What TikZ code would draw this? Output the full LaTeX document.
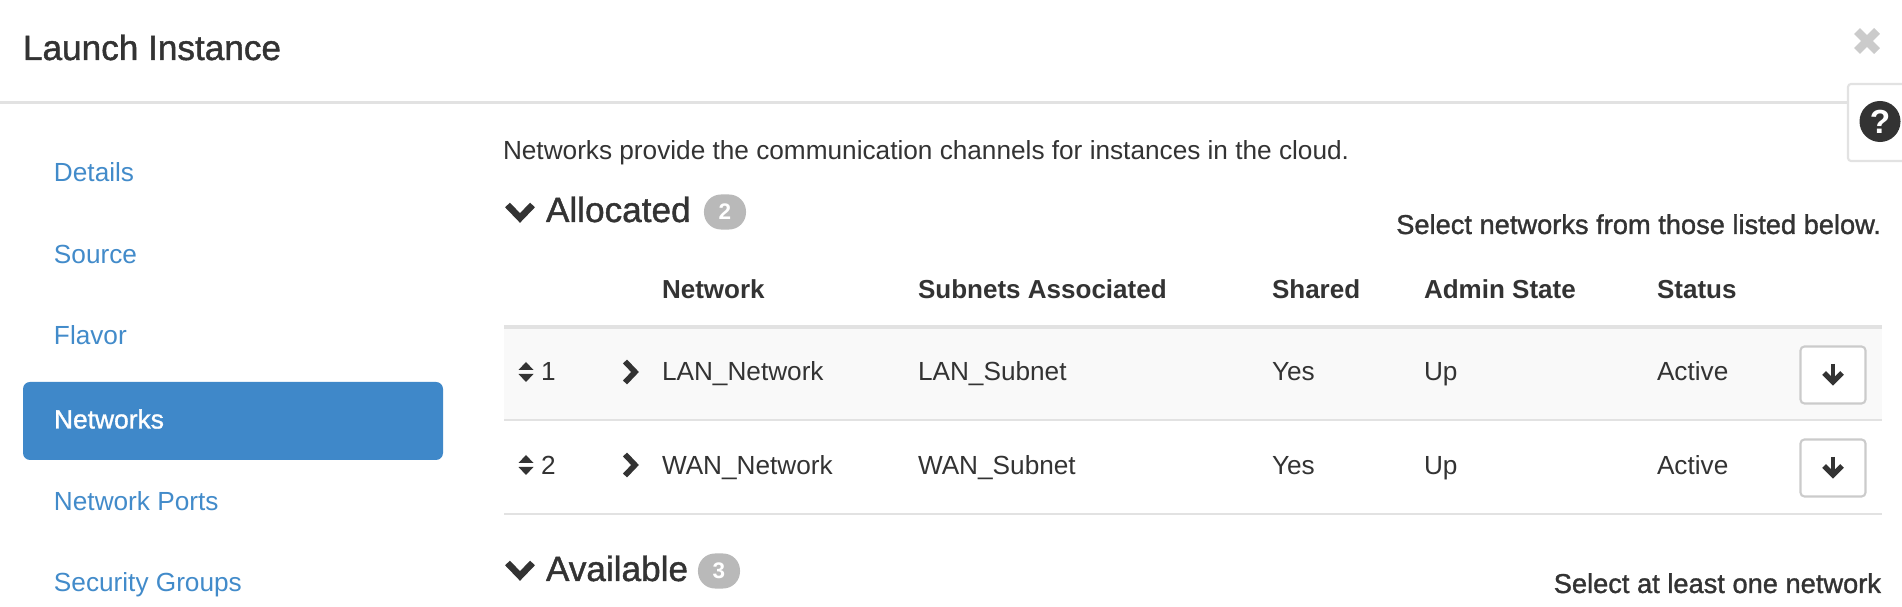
\documentclass[tikz,border=0pt]{standalone}
\usepackage{fontspec}
\setmainfont{Liberation Sans}
\newfontfamily\medfont[FakeBold=1.2]{Liberation Sans}
\usetikzlibrary{positioning}
\definecolor{linkblue}{HTML}{428BCA}
\definecolor{activeblue}{HTML}{3F88C9}
\definecolor{inktext}{HTML}{333333}
\definecolor{rulegray}{HTML}{E2E2E2}
\definecolor{badgegray}{HTML}{B9B9B9}
\definecolor{rowgray}{HTML}{F9F9F9}

\begin{document}
\begin{tikzpicture}[
x=0.01cm, y=-0.01cm,
font=\fontsize{7.45}{9}\selectfont,
every node/.style={text=inktext,inner sep=0pt,outer sep=0pt},
body/.style={anchor=base west},
bodyright/.style={anchor=base east,font=\fontsize{7.75}{9}\selectfont\medfont},
heading/.style={anchor=base west,font=\fontsize{7.4}{9}\selectfont\bfseries},
biglabel/.style={anchor=base west,font=\fontsize{10}{12}\selectfont\medfont},
navlink/.style={anchor=base west,text=linkblue},
badge/.style={fill=badgegray,rounded corners=0.17cm,minimum width=0.42cm,minimum height=0.35cm,text=white,font=\fontsize{6.4}{8}\selectfont\bfseries},
btn/.style={draw=rulegray!90!black,line width=0.6pt,fill=white,rounded corners=0.04cm,minimum width=0.65cm,minimum height=0.57cm},
rule/.style={draw=rulegray,line width=0.6pt},
chev/.style={draw=inktext,line width=1.9pt,line join=miter},
rowchev/.style={draw=inktext,line width=1.6pt,line join=miter}
]
    \useasboundingbox [fill=white] (0,0) rectangle (1902,607);

    % Header
    \node[biglabel] (title) at (23,60) {Launch Instance};
    \draw[rule] (0,102.5) -- (1848,102.5);
    \draw[line width=2.4pt,draw=rulegray!90!black] (1857,31) -- (1877,51) (1877,31) -- (1857,51);
    \draw[rule,rounded corners=0.03cm,fill=white] (1905,84) -- (1848,84) -- (1848,161) -- (1905,161);
    \node[circle,fill=inktext,minimum size=0.41cm,text=white,font=\fontsize{9.5}{10}\selectfont\bfseries] (help) at (1880,121.5) {?};

    % Side menu
    \fill[activeblue,rounded corners=0.07cm] (23,382) rectangle (443,460);
    \node[navlink] (details) at (54,182) {Details};
    \node[navlink] (source) at (54,264) {Source};
    \node[navlink] (flavor) at (54,345) {Flavor};
    \node[navlink,text=white,font=\fontsize{7.5}{9}\selectfont\medfont] (networks) at (54,428.5) {Networks};
    \node[navlink] (ports) at (54,511) {Network Ports};
    \node[navlink] (groups) at (54,592) {Security Groups};

    % Allocated
    \node[body] (intro) at (503,160) {Networks provide the communication channels for instances in the cloud.};
    \draw[chev] (507.5,205) -- (520,218) -- (532.5,205);
    \node[biglabel] (allocated) at (546,222) {Allocated};
    \node[badge] (allocatedcount) at (725,212) {2};
    \node[bodyright] (selecthint) at (1881,234) {Select networks from those listed below.};

    \node[heading] (hnetwork) at (662,299) {Network};
    \node[heading] (hsubnets) at (918,299) {Subnets Associated};
    \node[heading] (hshared) at (1272,299) {Shared};
    \node[heading] (hadmin) at (1424,299) {Admin State};
    \node[heading] (hstatus) at (1657,299) {Status};

    \fill[rowgray] (504,329) rectangle (1882,420);
    \draw[draw=rulegray,line width=1.1pt] (504,327) -- (1882,327);
    \draw[rule] (504,420) -- (1882,420);
    \draw[rule] (504,514) -- (1882,514);

    \foreach \rowy/\basey/\idx/\netname/\subname in {372/381/1/LAN_Network/LAN_Subnet, 465/475/2/WAN_Network/WAN_Subnet} {
        \fill[inktext] (518.5,\rowy-2) -- (526,\rowy-10) -- (533.5,\rowy-2) -- cycle;
        \fill[inktext] (518.5,\rowy+2) -- (526,\rowy+10) -- (533.5,\rowy+2) -- cycle;
        \node[body] (idx\idx) at (541,\basey) {\idx};
        \draw[rowchev] (625,\rowy-10.5) -- (635,\rowy) -- (625,\rowy+10.5);
        \node[body] (net\idx) at (662,\basey) {\detokenize\expandafter{\netname}};
        \node[body] (sub\idx) at (918,\basey) {\detokenize\expandafter{\subname}};
        \node[body] (shared\idx) at (1272,\basey) {Yes};
        \node[body] (admin\idx) at (1424,\basey) {Up};
        \node[body] (status\idx) at (1657,\basey) {Active};
        \node[btn] (btn\idx) at (1833,\rowy+3) {};
        \draw[inktext,line width=1.2pt] (1833,\rowy-8) -- (1833,\rowy+10);
        \draw[inktext,line width=1.5pt] (1824,\rowy+1) -- (1833,\rowy+10) -- (1842,\rowy+1);
    }

    % Available
    \draw[chev] (507.5,563) -- (520,576) -- (532.5,563);
    \node[biglabel] (available) at (546,581) {Available};
    \node[badge] (availablecount) at (719,571) {3};
    \node[bodyright] (selectone) at (1881,593) {Select at least one network};
\end{tikzpicture}
\end{document}
